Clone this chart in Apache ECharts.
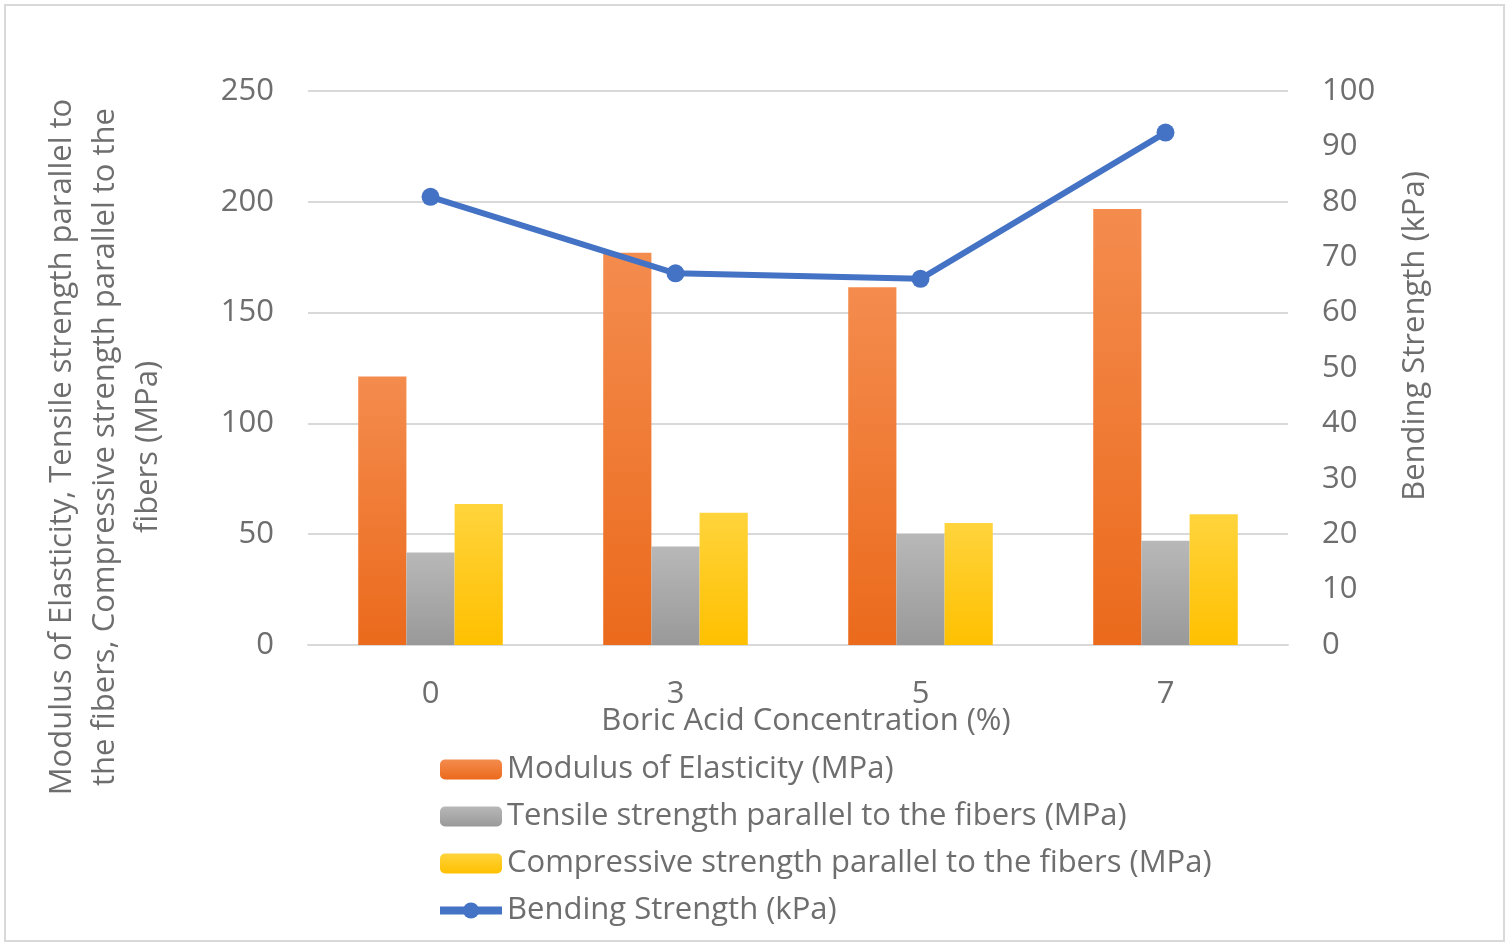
<!DOCTYPE html>
<html>
<head>
<meta charset="utf-8">
<script src="https://cdn.jsdelivr.net/npm/echarts@6/dist/echarts.min.js"></script>
<style>html,body{margin:0;padding:0;background:#fff;}#c{width:1510px;height:947px;}</style>
</head>
<body>
<div id="c"></div>
<script>
const categories = ['0', '3', '5', '7'];
const modulus = [121.2, 177.0, 161.4, 196.7];
const tensile = [41.7, 44.5, 50.1, 47.0];
const compressive = [63.6, 59.7, 55.1, 59.0];
const bending = [80.9, 67.1, 66.1, 92.5];
const leftTicks = [0, 50, 100, 150, 200, 250];
const rightTicks = [0, 10, 20, 30, 40, 50, 60, 70, 80, 90, 100];

const FONT = 'Open Sans';
const TXT = '#6E6E6E';
const FS = 31;
function grad(top, bottom) {
  return new echarts.graphic.LinearGradient(0, 0, 0, 1, [{offset: 0, color: top}, {offset: 1, color: bottom}]);
}
const chart = echarts.init(document.getElementById('c'), null, {renderer: 'canvas'});
chart.setOption({
  animation: false,
  backgroundColor: '#fff',
  textStyle: {fontFamily: FONT},
  grid: {left: 308, right: 222, top: 91, bottom: 302, containLabel: false},
  legend: {
    orient: 'vertical', left: 431, top: 749, itemWidth: 62, itemHeight: 20, itemGap: 16,
    textStyle: {fontFamily: FONT, fontSize: 31, color: TXT, padding: [0, 0, 0, 0]},
    data: [
      {name: 'Modulus of Elasticity (MPa)'},
      {name: 'Tensile strength parallel to the fibers (MPa)'},
      {name: 'Compressive strength parallel to the fibers (MPa)'},
      {name: 'Bending Strength (kPa)', lineStyle: {width: 8}}
    ]
  },
  xAxis: {
    type: 'category', data: categories,
    axisLine: {lineStyle: {color: '#D9D9D9', width: 2}},
    axisTick: {show: false},
    axisLabel: {fontFamily: FONT, fontSize: FS, color: TXT, margin: 34}
  },
  yAxis: [{
    type: 'value', min: 0, max: 250, interval: 50,
    axisLine: {show: false}, axisTick: {show: false},
    splitLine: {lineStyle: {color: '#D9D9D9', width: 2}},
    axisLabel: {fontFamily: FONT, fontSize: FS, color: TXT, margin: 34,
      formatter: v => leftTicks.includes(v) ? String(v) : ''}
  }, {
    type: 'value', min: 0, max: 100, interval: 10,
    axisLine: {show: false}, axisTick: {show: false}, splitLine: {show: false},
    axisLabel: {fontFamily: FONT, fontSize: FS, color: TXT, margin: 34,
      formatter: v => rightTicks.includes(v) ? String(v) : ''}
  }],
  graphic: [
    {type: 'rect', shape: {x: 5, y: 5, width: 1499, height: 936}, style: {fill: 'none', stroke: '#D9D9D9', lineWidth: 2}, silent: true, z: -1},
    {type: 'text', x: 806, y: 721,
      style: {text: 'Boric Acid Concentration (%)', font: FS + 'px "Open Sans"', fill: TXT, align: 'center', verticalAlign: 'middle'}},
    {type: 'text', rotation: Math.PI / 2, x: 105, y: 447,
      style: {text: 'Modulus of Elasticity, Tensile strength parallel to\nthe fibers, Compressive strength parallel to the\nfibers (MPa)',
        font: FS + 'px "Open Sans"', fill: TXT, align: 'center', verticalAlign: 'middle', lineHeight: 43}},
    {type: 'text', rotation: Math.PI / 2, x: 1415, y: 336,
      style: {text: 'Bending Strength (kPa)', font: FS + 'px "Open Sans"', fill: TXT, align: 'center', verticalAlign: 'middle'}}
  ],
  series: [
    {name: 'Modulus of Elasticity (MPa)', type: 'bar', data: modulus, barGap: '0%', barCategoryGap: '41%',
      itemStyle: {color: grad('#F48C4E', '#EB6A1C')}},
    {name: 'Tensile strength parallel to the fibers (MPa)', type: 'bar', data: tensile,
      itemStyle: {color: grad('#B8B8B8', '#999999')}},
    {name: 'Compressive strength parallel to the fibers (MPa)', type: 'bar', data: compressive,
      itemStyle: {color: grad('#FFD43C', '#FFC000')}},
    {name: 'Bending Strength (kPa)', type: 'line', yAxisIndex: 1, data: bending,
      symbol: 'circle', symbolSize: 18, lineStyle: {color: '#4472C4', width: 6},
      itemStyle: {color: '#4472C4'}, z: 5}
  ]
});
</script>
</body>
</html>
